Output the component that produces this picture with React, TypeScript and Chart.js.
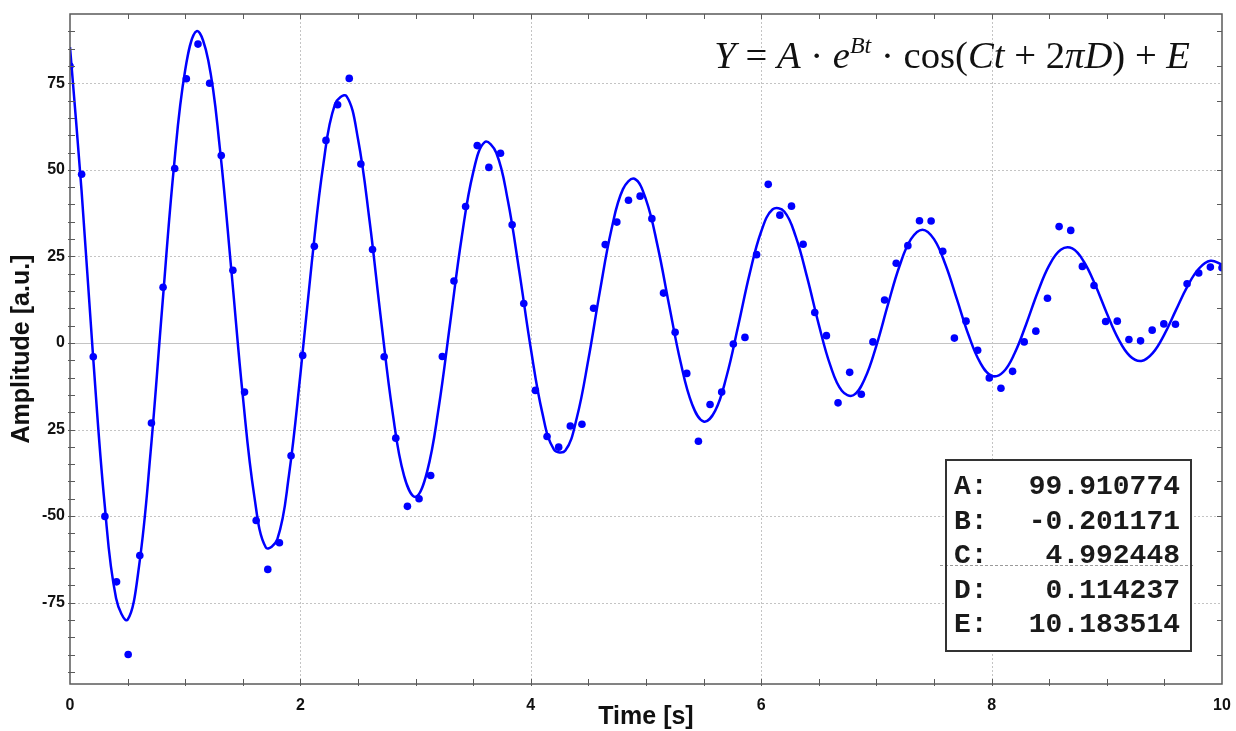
import React, { useEffect, useRef } from 'react';
import { Chart, registerables } from 'chart.js';

Chart.register(...registerables);

// ---- data ----
const sampleTimes = [
  0, 0.101, 0.202, 0.303, 0.404, 0.505, 0.606, 0.707, 0.808, 0.909,
  1.010, 1.111, 1.212, 1.313, 1.414, 1.515, 1.616, 1.717, 1.818, 1.919,
  2.020, 2.121, 2.222, 2.323, 2.424, 2.525, 2.626, 2.727, 2.828, 2.929,
  3.030, 3.131, 3.232, 3.333, 3.434, 3.535, 3.636, 3.737, 3.838, 3.939,
  4.040, 4.141, 4.242, 4.343, 4.444, 4.545, 4.646, 4.747, 4.848, 4.949,
  5.051, 5.152, 5.253, 5.354, 5.455, 5.556, 5.657, 5.758, 5.859, 5.960,
  6.061, 6.162, 6.263, 6.364, 6.465, 6.566, 6.667, 6.768, 6.869, 6.970,
  7.071, 7.172, 7.273, 7.374, 7.475, 7.576, 7.677, 7.778, 7.879, 7.980,
  8.081, 8.182, 8.283, 8.384, 8.485, 8.586, 8.687, 8.788, 8.889, 8.990,
  9.091, 9.192, 9.293, 9.394, 9.495, 9.596, 9.697, 9.798, 9.899, 10.0,
];

const measuredAmplitude = [
  80.0, 48.7, -4.0, -50.1, -69.0, -90.0, -61.4, -23.1, 16.1, 50.4,
  76.3, 86.3, 75.0, 54.1, 21.0, -14.2, -51.3, -65.4, -57.7, -32.6,
  -3.6, 27.9, 58.5, 68.8, 76.4, 51.7, 27.0, -4.0, -27.5, -47.2,
  -45.0, -38.3, -3.9, 17.9, 39.4, 57.0, 50.7, 54.8, 34.1, 11.4,
  -13.7, -27.0, -30.1, -24.0, -23.5, 10.0, 28.4, 34.9, 41.2, 42.4,
  35.9, 14.4, 3.1, -8.8, -28.4, -17.8, -14.2, -0.3, 1.6, 25.5,
  45.8, 36.9, 39.5, 28.5, 8.8, 2.1, -17.3, -8.5, -14.8, 0.3,
  12.4, 23.0, 28.1, 35.3, 35.2, 26.5, 1.4, 6.3, -2.1, -10.1,
  -13.1, -8.2, 0.3, 3.4, 12.9, 33.6, 32.5, 22.1, 16.6, 6.2,
  6.3, 1.0, 0.6, 3.7, 5.5, 5.4, 17.1, 20.2, 21.9, 21.7,
];

const fitTimes = [
  0, 0.1, 0.2, 0.3, 0.4, 0.5, 0.6, 0.7, 0.8, 0.9,
  1.0, 1.1, 1.2, 1.3, 1.4, 1.5, 1.6, 1.7, 1.8, 1.9,
  2.0, 2.1, 2.2, 2.3, 2.4, 2.5, 2.6, 2.7, 2.8, 2.9,
  3.0, 3.1, 3.2, 3.3, 3.4, 3.5, 3.6, 3.7, 3.8, 3.9,
  4.0, 4.1, 4.2, 4.3, 4.4, 4.5, 4.6, 4.7, 4.8, 4.9,
  5.0, 5.1, 5.2, 5.3, 5.4, 5.5, 5.6, 5.7, 5.8, 5.9,
  6.0, 6.1, 6.2, 6.3, 6.4, 6.5, 6.6, 6.7, 6.8, 6.9,
  7.0, 7.1, 7.2, 7.3, 7.4, 7.5, 7.6, 7.7, 7.8, 7.9,
  8.0, 8.1, 8.2, 8.3, 8.4, 8.5, 8.6, 8.7, 8.8, 8.9,
  9.0, 9.1, 9.2, 9.3, 9.4, 9.5, 9.6, 9.7, 9.8, 9.9,
  10.0,
];

const fitAmplitude = [
  85.45, 44.11, -3.73, -46.35, -73.73, -79.93, -64.29, -31.41, 10.12, 50.05,
  78.84, 90.04, 81.67, 56.49, 21.21, -15.32, -44.30, -59.08, -56.68, -38.35,
  -9.11, 23.60, 51.80, 68.92, 71.29, 58.91, 35.36, 6.69, -20.00, -38.41,
  -44.45, -37.16, -18.80, 5.77, 30.44, 49.27, 58.00, 54.93, 41.25, 20.67,
  -1.62, -20.19, -30.75, -31.09, -21.53, -4.73, 14.97, 32.75, 44.42, 47.42,
  41.39, 28.11, 11.06, -5.53, -17.69, -22.70, -19.63, -9.54, 4.88, 20.01,
  32.18, 38.60, 37.96, 30.69, 18.79, 5.29, -6.49, -13.82, -15.11, -10.28,
  -0.75, 11.04, 22.15, 29.96, 32.72, 29.97, 22.58, 12.52, 2.28, -5.64,
  -9.47, -8.42, -2.97, 5.41, 14.63, 22.39, 26.92, 27.29, 23.53, 16.72,
  8.60, 1.19, -3.77, -5.20, -2.88, 2.47, 9.47, 16.35, 21.49, 23.72,
  22.61,
];

const xTickValues = [0, 2, 4, 6, 8, 10];
const xTickLabels = ['0', '2', '4', '6', '8', '10'];
const yTickValues = [-75, -50, -25, 0, 25, 50, 75];
const yTickLabels = ['-75', '-50', '25', '0', '25', '50', '75'];

const paramLabels = ['A:', 'B:', 'C:', 'D:', 'E:'];
const paramValues = ['99.910774', '-0.201171', '4.992448', '0.114237', '10.183514'];

// formula pieces: [text, italic, superscript]
const formulaParts: [string, boolean, boolean][] = [
  ['Y', true, false],
  [' = ', false, false],
  ['A', true, false],
  [' \u00B7 ', false, false],
  ['e', true, false],
  ['Bt', true, true],
  [' \u00B7 cos(', false, false],
  ['Ct', true, false],
  [' + 2', false, false],
  ['\u03C0D', true, false],
  [') + ', false, false],
  ['E', true, false],
];

const X_MIN = 0;
const X_MAX = 10;
const Y_MIN = -98.5;
const Y_MAX = 95;

const BLUE = '#0000ff';
const FRAME = '#5a5a5a';
const GRID = '#c4c4c4';

const decorPlugin = {
  id: 'decor',
  beforeDatasetsDraw(chart: any) {
    const { ctx, chartArea: a, scales } = chart;
    const x = scales.x;
    const y = scales.y;
    ctx.save();
    ctx.lineWidth = 1;
    ctx.strokeStyle = GRID;
    ctx.setLineDash([2, 2]);
    for (const v of xTickValues) {
      if (v === X_MIN || v === X_MAX) continue;
      const px = Math.round(x.getPixelForValue(v)) + 0.5;
      ctx.beginPath();
      ctx.moveTo(px, a.top);
      ctx.lineTo(px, a.bottom);
      ctx.stroke();
    }
    for (const v of yTickValues) {
      const py = Math.round(y.getPixelForValue(v)) + 0.5;
      ctx.setLineDash(v === 0 ? [] : [2, 2]);
      ctx.beginPath();
      ctx.moveTo(a.left, py);
      ctx.lineTo(a.right, py);
      ctx.stroke();
    }
    ctx.restore();
  },
  afterDatasetsDraw(chart: any) {
    const { ctx, chartArea: a, scales } = chart;
    const x = scales.x;
    const y = scales.y;
    ctx.save();
    // frame
    ctx.strokeStyle = FRAME;
    ctx.lineWidth = 1.5;
    ctx.setLineDash([]);
    ctx.strokeRect(a.left, a.top, a.right - a.left, a.bottom - a.top);
    // ticks
    ctx.lineWidth = 1;
    ctx.beginPath();
    for (let v = X_MIN + 0.5; v < X_MAX; v += 0.5) {
      const px = Math.round(x.getPixelForValue(v)) + 0.5;
      ctx.moveTo(px, a.bottom + 2);
      ctx.lineTo(px, a.bottom - 5);
      ctx.moveTo(px, a.top);
      ctx.lineTo(px, a.top + 5);
    }
    for (let v = -95; v <= 95; v += 5) {
      const py = Math.round(y.getPixelForValue(v)) + 0.5;
      if (py <= a.top + 1 || py >= a.bottom - 1) continue;
      ctx.moveTo(a.left - 2, py);
      ctx.lineTo(a.left + 5, py);
    }
    for (let v = -90; v <= 90; v += 10) {
      const py = Math.round(y.getPixelForValue(v)) + 0.5;
      ctx.moveTo(a.right, py);
      ctx.lineTo(a.right - 5, py);
    }
    ctx.stroke();

    // formula
    const baseSize = 34;
    const serif = '"Liberation Serif", "DejaVu Serif", serif';
    const fontFor = (italic: boolean, sup: boolean, size: number) =>
      `${italic ? 'italic ' : ''}${sup ? Math.round(size * 0.62) : size}px ${serif}`;
    const measure = (s: number) => {
      let w = 0;
      for (const [t, it, sup] of formulaParts) {
        ctx.font = fontFor(it, sup, s);
        w += ctx.measureText(t).width;
      }
      return w;
    };
    const targetW = 476;
    let size = Math.round(baseSize * targetW / measure(baseSize) * 10) / 10;
    if (size > 40) size = 40;
    const totalW = measure(size);
    let cx = a.right - 32 - totalW;
    const baseY = a.top + 54;
    ctx.fillStyle = '#111';
    ctx.textBaseline = 'alphabetic';
    ctx.textAlign = 'left';
    for (const [t, it, sup] of formulaParts) {
      ctx.font = fontFor(it, sup, size);
      ctx.fillText(t, cx, sup ? baseY - size * 0.38 : baseY);
      cx += ctx.measureText(t).width;
    }

    // parameter box
    const bw = 245;
    const bh = 191;
    const bx = a.right - 276;
    const by = a.top + 446;
    ctx.fillStyle = '#ffffff';
    ctx.fillRect(bx, by, bw, bh);
    ctx.font = 'bold 28px "Liberation Mono", "DejaVu Sans Mono", monospace';
    ctx.fillStyle = '#1a1a1a';
    ctx.textBaseline = 'middle';
    for (let i = 0; i < paramLabels.length; i++) {
      const ty = by + 27 + i * 34.6;
      ctx.textAlign = 'left';
      ctx.fillText(paramLabels[i], bx + 8, ty);
      ctx.textAlign = 'right';
      ctx.fillText(paramValues[i], bx + bw - 11, ty);
    }
    ctx.strokeStyle = '#9a9a9a';
    ctx.lineWidth = 1;
    ctx.setLineDash([3, 2]);
    ctx.beginPath();
    ctx.moveTo(bx - 6, by + 105.5);
    ctx.lineTo(bx + bw + 2, by + 105.5);
    ctx.stroke();
    ctx.setLineDash([]);
    ctx.strokeStyle = '#333333';
    ctx.lineWidth = 2;
    ctx.strokeRect(bx, by, bw, bh);
    ctx.restore();
  },
};

export default function App() {
  const canvasRef = useRef<HTMLCanvasElement | null>(null);

  useEffect(() => {
    if (!canvasRef.current) return;
    Chart.defaults.font.family = '"Liberation Sans", Arial, sans-serif';
    const points = sampleTimes.map((t, i) => ({ x: t, y: measuredAmplitude[i] }));
    const fit = fitTimes.map((t, i) => ({ x: t, y: fitAmplitude[i] }));
    const chart = new Chart(canvasRef.current, {
      type: 'scatter',
      data: {
        datasets: [
          {
            label: 'Data',
            data: points,
            backgroundColor: BLUE,
            borderColor: BLUE,
            borderWidth: 0,
            pointRadius: 3.8,
            pointHoverRadius: 3.8,
            showLine: false,
            clip: 0,
          },
          {
            label: 'Fit',
            data: fit,
            borderColor: BLUE,
            backgroundColor: BLUE,
            borderWidth: 2.5,
            pointRadius: 0,
            pointHoverRadius: 0,
            showLine: true,
            tension: 0.4,
            clip: 0,
          },
        ],
      },
      options: {
        animation: false,
        responsive: true,
        maintainAspectRatio: false,
        devicePixelRatio: 1,
        layout: { padding: { top: 14, right: 14, left: 0, bottom: 0 } },
        plugins: {
          legend: { display: false },
          tooltip: { enabled: false },
        },
        events: [],
        scales: {
          x: {
            type: 'linear',
            min: X_MIN,
            max: X_MAX,
            grid: { display: false, drawTicks: false },
            border: { display: false },
            afterBuildTicks: (scale: any) => {
              scale.ticks = xTickValues.map((v) => ({ value: v }));
            },
            afterFit: (scale: any) => {
              scale.height = 47;
              scale.paddingLeft = 0;
              scale.paddingRight = 0;
            },
            ticks: {
              autoSkip: false,
              maxRotation: 0,
              padding: 12,
              color: '#111',
              font: { size: 16, weight: 'bold' },
              callback: (v: any) => {
                const idx = xTickValues.indexOf(Number(v));
                return idx >= 0 ? xTickLabels[idx] : '';
              },
            },
            title: {
              display: true,
              text: 'Time [s]',
              color: '#111',
              font: { size: 25, weight: 'bold', lineHeight: 1 },
              padding: { top: 0, bottom: 1.5 },
            },
          },
          y: {
            type: 'linear',
            min: Y_MIN,
            max: Y_MAX,
            grid: { display: false, drawTicks: false },
            border: { display: false },
            afterBuildTicks: (scale: any) => {
              scale.ticks = yTickValues.map((v) => ({ value: v }));
            },
            afterFit: (scale: any) => {
              scale.width = 70;
              scale.paddingTop = 0;
              scale.paddingBottom = 0;
            },
            ticks: {
              autoSkip: false,
              padding: 5,
              color: '#111',
              font: { size: 16, weight: 'bold' },
              callback: (v: any) => {
                const idx = yTickValues.indexOf(Number(v));
                return idx >= 0 ? yTickLabels[idx] : '';
              },
            },
            title: {
              display: true,
              text: 'Amplitude [a.u.]',
              color: '#111',
              font: { size: 25, weight: 'bold', lineHeight: 1 },
              padding: { top: 9.5, bottom: 0 },
            },
          },
        },
      },
      plugins: [decorPlugin],
    } as any);
    return () => chart.destroy();
  }, []);

  return (
    <div
      style={{
        position: 'absolute',
        left: 0,
        top: 0,
        width: 1236,
        height: 731,
        background: '#ffffff',
      }}
    >
      <canvas ref={canvasRef} />
    </div>
  );
}
